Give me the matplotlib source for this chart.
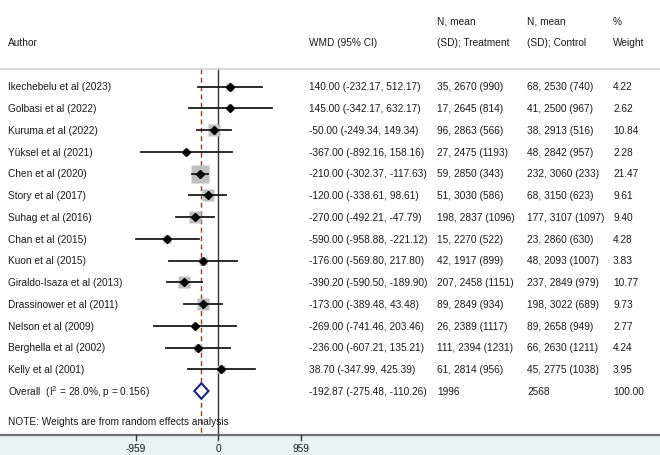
import numpy as np
import matplotlib
matplotlib.use("Agg")
import matplotlib.pyplot as plt
from matplotlib import transforms

# Study data
authors = ["Ikechebelu et al (2023)", "Golbasi et al (2022)", "Kuruma et al (2022)",
           "Yüksel et al (2021)", "Chen et al (2020)", "Story et al (2017)",
           "Suhag et al (2016)", "Chan et al (2015)", "Kuon et al (2015)",
           "Giraldo-Isaza et al (2013)", "Drassinower et al (2011)", "Nelson et al (2009)",
           "Berghella et al (2002)", "Kelly et al (2001)"]
wmd = [140.00, 145.00, -50.00, -367.00, -210.00, -120.00, -270.00, -590.00,
       -176.00, -390.20, -173.00, -269.00, -236.00, 38.70]
lo = [-232.17, -342.17, -249.34, -892.16, -302.37, -338.61, -492.21, -958.88,
      -569.80, -590.50, -389.48, -741.46, -607.21, -347.99]
hi = [512.17, 632.17, 149.34, 158.16, -117.63, 98.61, -47.79, -221.12,
      217.80, -189.90, 43.48, 203.46, 135.21, 425.39]
treat = ["35, 2670 (990)", "17, 2645 (814)", "96, 2863 (566)", "27, 2475 (1193)",
         "59, 2850 (343)", "51, 3030 (586)", "198, 2837 (1096)", "15, 2270 (522)",
         "42, 1917 (899)", "207, 2458 (1151)", "89, 2849 (934)", "26, 2389 (1117)",
         "111, 2394 (1231)", "61, 2814 (956)"]
control = ["68, 2530 (740)", "41, 2500 (967)", "38, 2913 (516)", "48, 2842 (957)",
           "232, 3060 (233)", "68, 3150 (623)", "177, 3107 (1097)", "23, 2860 (630)",
           "48, 2093 (1007)", "237, 2849 (979)", "198, 3022 (689)", "89, 2658 (949)",
           "66, 2630 (1211)", "45, 2775 (1038)"]
weight = [4.22, 2.62, 10.84, 2.28, 21.47, 9.61, 9.40, 4.28, 3.83, 10.77, 9.73,
          2.77, 4.24, 3.95]
overall = -192.87
overall_lo = -275.48
overall_hi = -110.26
overall_treat = "1996"
overall_control = "2568"
overall_weight = "100.00"
xticks = [-959, 0, 959]

W, H = 660, 456
plt.rcParams["font.family"] = ["Liberation Sans", "DejaVu Sans"]
fig = plt.figure(figsize=(W / 100, H / 100), dpi=100)
ax = fig.add_axes([0, 0, 1, 1])
ax.axis("off")

# pixel layout: zero at x=218, 959 units ~ 82.5 px
px_per_unit = 82.5 / 959
x0_px = 218
ax.set_xlim(-x0_px / px_per_unit, (W - x0_px) / px_per_unit)
ax.set_ylim(H, 0)

fs = 7.3
tc = "#1a1a1a"
tr = transforms.blended_transform_factory(ax.transAxes, ax.transData)

y_first = 87.5
dy = 21.75
rows = y_first + dy * np.arange(len(authors))
y_over = y_first + dy * len(authors)
y_head_line = 70
y_axis = 436

cols = [8 / W, 309 / W, 437 / W, 527 / W, 613 / W]

def put(col, y, s):
    ax.text(cols[col], y, s, transform=tr, fontsize=fs, color=tc, va="center")

# header
put(0, 43, "Author")
put(1, 43, "WMD (95% CI)")
put(2, 22, "N, mean")
put(2, 43, "(SD); Treatment")
put(3, 22, "N, mean")
put(3, 43, "(SD); Control")
put(4, 22, "%")
put(4, 43, "Weight")
ax.axhline(y_head_line, color="#d0d0d0", lw=1.2)

# reference lines
ax.plot([0, 0], [y_head_line, y_axis], color="#333333", lw=1.0, zorder=1)
ax.plot([overall, overall], [y_head_line, y_axis], color="#cc1f2b", lw=1.0,
        ls=(0, (3.5, 2.5)), zorder=1)

# studies
for i, y in enumerate(rows):
    ms = 2.66 * np.sqrt(weight[i])
    ax.plot(wmd[i], y, marker="s", ms=ms, color="#bfbfbf", mec="none", zorder=2)
    ax.plot([lo[i], hi[i]], [y, y], color="#1a1a1a", lw=1.3, zorder=3)
    ax.plot(wmd[i], y, marker="D", ms=3.6, color="black", zorder=4)
    put(0, y, authors[i])
    put(1, y, f"{wmd[i]:.2f} ({lo[i]:.2f}, {hi[i]:.2f})")
    put(2, y, treat[i])
    put(3, y, control[i])
    put(4, y, f"{weight[i]:.2f}")

# overall diamond
dh = 7.8
ax.fill([overall_lo, overall, overall_hi, overall], [y_over, y_over - dh, y_over, y_over + dh],
        facecolor="white", edgecolor="#1a237e", lw=1.5, zorder=4)
put(0, y_over, "Overall  (I$^2$ = 28.0%, p = 0.156)")
put(1, y_over, f"{overall:.2f} ({overall_lo:.2f}, {overall_hi:.2f})")
put(2, y_over, overall_treat)
put(3, y_over, overall_control)
put(4, y_over, overall_weight)

put(0, 422, "NOTE: Weights are from random effects analysis")

# bottom axis band
ax.axhspan(y_axis, H, color="#eaf2f3", zorder=0)
ax.axhline(y_axis, color="#707070", lw=1.6, zorder=5)
for t in xticks:
    ax.plot([t, t], [y_axis, y_axis + 5], color="#333333", lw=1.0, zorder=5)
    ax.text(t, 449, f"{t}", fontsize=fs, color=tc, ha="center", va="center")

fig.savefig("out.png", dpi=100, facecolor="white")
